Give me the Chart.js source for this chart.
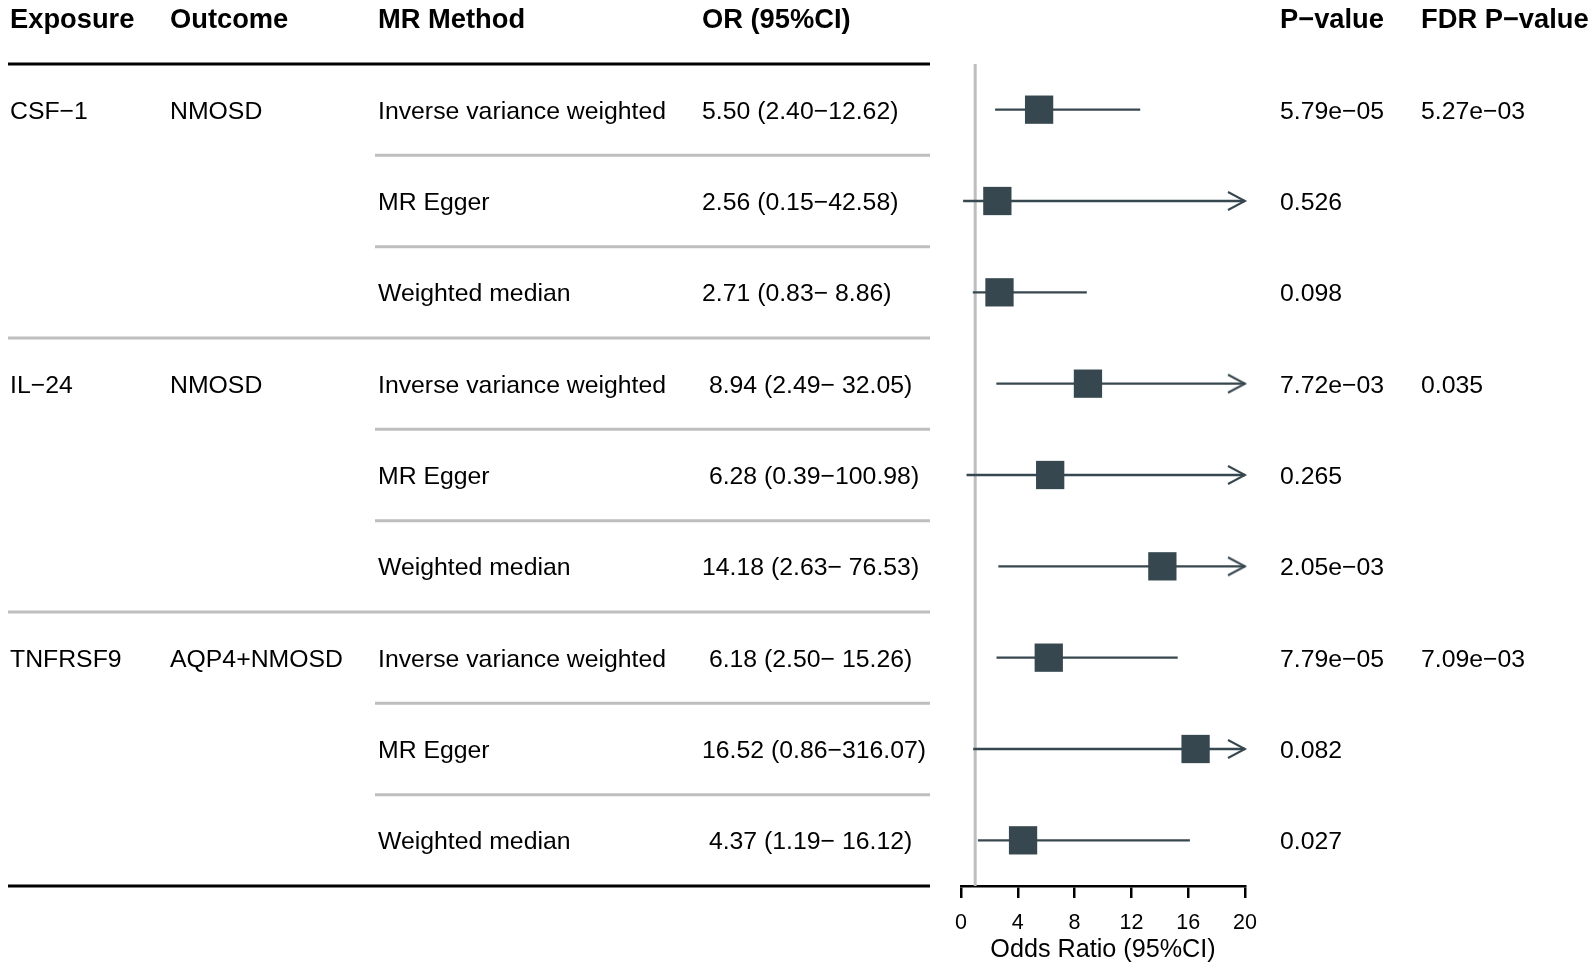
<!DOCTYPE html>
<html>
<head>
<meta charset="utf-8">
<script src="https://cdn.jsdelivr.net/npm/chart.js@4.4.1/dist/chart.umd.min.js"></script>
<style>
  html, body { margin: 0; padding: 0; background: #fff; }
  #wrap { width: 1595px; height: 967px; position: relative; }
</style>
</head>
<body>
<div id="wrap"><canvas id="forest"></canvas></div>
<script>
// table columns
const exposures = ["CSF\u22121", "IL\u221224", "TNFRSF9"];
const outcomes = ["NMOSD", "NMOSD", "AQP4+NMOSD"];
const methods = ["Inverse variance weighted", "MR Egger", "Weighted median"];

// estimates, one per row
const orValues = [5.50, 2.56, 2.71, 8.94, 6.28, 14.18, 6.18, 16.52, 4.37];
const lowerCI = [2.40, 0.15, 0.83, 2.49, 0.39, 2.63, 2.50, 0.86, 1.19];
const upperCI = [12.62, 42.58, 8.86, 32.05, 100.98, 76.53, 15.26, 316.07, 16.12];
const orLabels = [
  "5.50 (2.40\u221212.62)", "2.56 (0.15\u221242.58)", "2.71 (0.83\u2212 8.86)",
  " 8.94 (2.49\u2212 32.05)", " 6.28 (0.39\u2212100.98)", "14.18 (2.63\u2212 76.53)",
  " 6.18 (2.50\u2212 15.26)", "16.52 (0.86\u2212316.07)", " 4.37 (1.19\u2212 16.12)"
];
const pValues = ["5.79e\u221205", "0.526", "0.098", "7.72e\u221203", "0.265", "2.05e\u221203",
  "7.79e\u221205", "0.082", "0.027"];
const fdrValues = ["5.27e\u221203", "", "", "0.035", "", "", "7.09e\u221203", "", ""];

const headers = ["Exposure", "Outcome", "MR Method", "OR (95%CI)", "P\u2212value", "FDR P\u2212value"];
const xMin = 0, xMax = 20, xStep = 4;
const refLine = 1;

const boxColor = "#37474f";
const sepColor = "#bebebe";
const fontFamily = "'Liberation Sans', Arial, sans-serif";
const colX = [10, 170, 378, 702, 1280, 1421];

// chevron used as the end marker of clipped intervals
function makeArrow() {
  const c = document.createElement("canvas");
  c.width = 40; c.height = 26;
  const g = c.getContext("2d");
  g.strokeStyle = boxColor;
  g.lineWidth = 2;
  g.beginPath();
  g.moveTo(20 - 17, 13 - 9);
  g.lineTo(20, 13);
  g.lineTo(20 - 17, 13 + 9);
  g.stroke();
  return c;
}
const arrow = makeArrow();

const ciSets = orValues.map((v, i) => {
  const clipped = upperCI[i] > xMax;
  return {
    type: "line",
    data: [{ x: lowerCI[i], y: i }, { x: Math.min(upperCI[i], xMax), y: i }],
    borderColor: boxColor,
    borderWidth: 2.4,
    showLine: true,
    pointStyle: ctx => (ctx.dataIndex === 1 && clipped) ? arrow : "circle",
    pointRadius: ctx => (ctx.dataIndex === 1 && clipped) ? 1 : 0,
    clip: false,
    order: 1
  };
});

const tablePlugin = {
  id: "tableText",
  afterDraw(chart) {
    const ctx = chart.ctx;
    const y = chart.scales.y;
    const left = 8, right = 930;
    const nudge = 2;
    ctx.save();

    // separators
    ctx.lineWidth = 3;
    ctx.strokeStyle = sepColor;
    for (let i = 0; i < orValues.length - 1; i++) {
      const py = y.getPixelForValue(i + 0.5);
      const start = (i % 3 === 2) ? left : 375;
      ctx.beginPath(); ctx.moveTo(start, py); ctx.lineTo(right, py); ctx.stroke();
    }
    ctx.strokeStyle = "#000";
    [-0.5, orValues.length - 0.5].forEach(v => {
      const py = y.getPixelForValue(v);
      ctx.beginPath(); ctx.moveTo(left, py); ctx.lineTo(right, py); ctx.stroke();
    });

    // header
    ctx.fillStyle = "#000";
    ctx.textBaseline = "middle";
    ctx.textAlign = "left";
    ctx.font = "bold 27.3px " + fontFamily;
    const hy = y.getPixelForValue(-1) + nudge;
    headers.forEach((h, k) => ctx.fillText(h, colX[k], hy));

    // rows
    ctx.font = "24.8px " + fontFamily;
    orValues.forEach((v, i) => {
      const py = y.getPixelForValue(i) + nudge;
      const g = Math.floor(i / 3);
      if (i % 3 === 0) {
        ctx.fillText(exposures[g], colX[0], py);
        ctx.fillText(outcomes[g], colX[1], py);
      }
      ctx.fillText(methods[i % 3], colX[2], py);
      ctx.fillText(orLabels[i], colX[3], py);
      ctx.fillText(pValues[i], colX[4], py);
      if (fdrValues[i]) ctx.fillText(fdrValues[i], colX[5], py);
    });
    ctx.restore();
  }
};

new Chart(document.getElementById("forest"), {
  type: "scatter",
  data: {
    datasets: [
      {
        data: orValues.map((v, i) => ({ x: v, y: i })),
        pointStyle: "rect",
        pointRadius: 20,
        backgroundColor: boxColor,
        borderWidth: 0,
        order: 0
      },
      ...ciSets,
      {
        type: "line",
        data: [{ x: refLine, y: -0.5 }, { x: refLine, y: orValues.length - 0.5 }],
        borderColor: sepColor,
        borderWidth: 3,
        pointRadius: 0,
        showLine: true,
        order: 2
      }
    ]
  },
  options: {
    responsive: true,
    maintainAspectRatio: false,
    animation: false,
    events: [],
    layout: { padding: { left: 961, right: 350, top: 64, bottom: 0 } },
    plugins: { legend: { display: false }, tooltip: { enabled: false } },
    scales: {
      x: {
        type: "linear",
        min: xMin,
        max: xMax,
        afterFit: scale => { scale.height = 81; },
        ticks: {
          stepSize: xStep,
          color: "#000",
          padding: 12,
          font: { family: fontFamily, size: 21.5 }
        },
        grid: {
          display: true,
          drawOnChartArea: false,
          drawTicks: true,
          tickLength: 12,
          color: "#000",
          lineWidth: 2.5
        },
        border: { display: true, color: "#000", width: 2.5 },
        title: {
          display: true,
          text: "Odds Ratio (95%CI)",
          color: "#000",
          padding: { top: 0, bottom: 2 },
          font: { family: fontFamily, size: 25.2 }
        }
      },
      y: {
        type: "linear",
        min: -0.5,
        max: orValues.length - 0.5,
        reverse: true,
        display: false
      }
    }
  },
  plugins: [tablePlugin]
});
</script>
</body>
</html>
